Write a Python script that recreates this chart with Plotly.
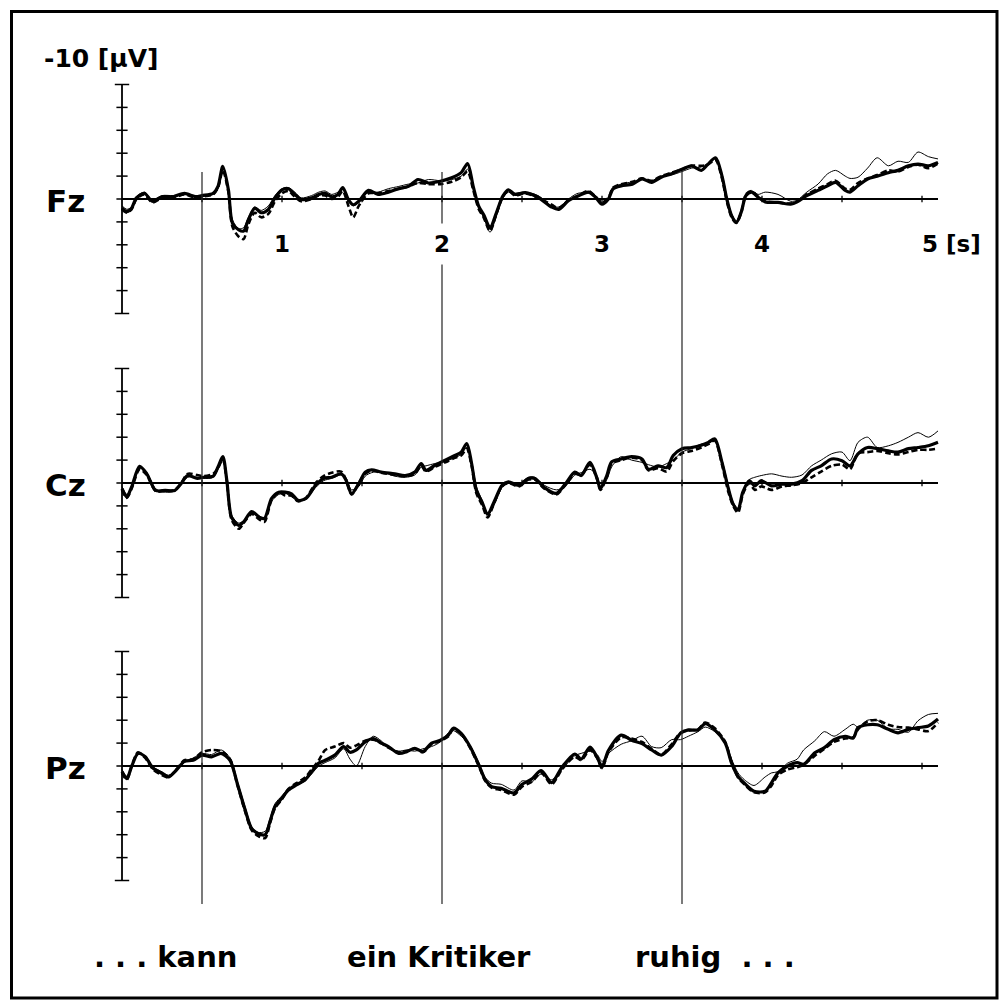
import plotly.graph_objects as go

# ---------------- data (µV, negative plotted upward) ----------------
T_FZ = [0.00, 0.03, 0.06, 0.09, 0.14, 0.19, 0.25, 0.32, 0.39, 0.46,
        0.50, 0.57, 0.60, 0.63, 0.665, 0.69, 0.73, 0.76, 0.79, 0.83,
        0.87, 0.915, 0.956, 1.00, 1.04, 1.08, 1.12, 1.185, 1.23, 1.27,
        1.31, 1.35, 1.38, 1.415, 1.445, 1.48, 1.54, 1.60, 1.665, 1.73,
        1.79, 1.85, 1.915, 1.99, 2.06, 2.12, 2.16, 2.195, 2.23, 2.26,
        2.30, 2.34, 2.38, 2.415, 2.456, 2.52, 2.60, 2.685, 2.73, 2.79,
        2.85, 2.915, 2.96, 3.00, 3.04, 3.07, 3.12, 3.19, 3.25, 3.31,
        3.37, 3.435, 3.50, 3.56, 3.62, 3.66, 3.71, 3.75, 3.78, 3.81,
        3.84, 3.87, 3.90, 3.935, 3.976, 4.02, 4.10, 4.18, 4.22, 4.28,
        4.35, 4.41, 4.46, 4.52, 4.55, 4.60, 4.66, 4.72, 4.79, 4.85,
        4.915, 4.975, 5.04, 5.10]
FZ_THICK = [0.8, 1.1, 0.8, -0.1, -0.5, 0.2, -0.2, -0.2, -0.5, -0.2,
            -0.3, -0.5, -1.1, -2.85, -0.8, 2.1, 2.7, 2.8, 1.8, 0.8,
            1.2, 0.9, -0.1, -0.8, -0.9, -0.4, 0.05, -0.1, -0.4, -0.5,
            -0.2, -0.4, -1.0, 0.05, 0.5, 0.2, -0.75, -0.4, -0.6, -0.9,
            -1.1, -1.7, -1.4, -1.55, -1.85, -2.3, -3.1, -1.1, 0.65, 1.35,
            2.5, 1.2, -0.25, -0.8, -0.4, -0.55, -0.15, 0.7, 0.9, 0.15,
            -0.25, -0.6, -0.15, 0.45, 0.0, -0.9, -1.15, -1.3, -1.75, -1.45,
            -1.9, -2.2, -2.6, -2.9, -2.5, -3.0, -3.6, -2.0, 0.0, 1.45,
            2.05, 1.15, -0.3, -0.6, -0.15, 0.25, 0.3, 0.45, 0.25, -0.3,
            -0.75, -1.15, -1.45, -0.75, -0.6, -1.15, -1.75, -2.0, -2.3, -2.5,
            -2.9, -3.05, -2.9, -3.2]
FZ_THIN = [0.6, 0.9, 0.7, -0.2, -0.6, 0.1, -0.3, -0.3, -0.4, -0.3,
           -0.2, -0.4, -0.9, -2.4, -0.9, 1.8, 2.6, 2.5, 1.6, 0.7,
           1.0, 0.6, -0.3, -0.9, -1.0, -0.6, -0.1, -0.3, -0.6, -0.7,
           -0.4, -0.6, -0.9, 0.2, 0.6, 0.3, -0.6, -0.6, -0.9, -1.1,
           -1.3, -1.4, -1.7, -1.6, -1.7, -2.0, -2.6, -1.0, 0.8, 1.6,
           2.9, 1.5, -0.1, -0.6, -0.5, -0.6, -0.3, 0.6, 0.7, 0.0,
           -0.5, -0.5, -0.3, 0.3, -0.1, -1.0, -1.3, -1.5, -1.7, -1.6,
           -2.0, -2.1, -2.4, -2.7, -2.8, -3.1, -3.5, -2.2, -0.2, 1.3,
           1.9, 1.0, -0.4, -0.7, -0.4, -0.6, -0.4, 0.2, 0.1, -0.6,
           -1.3, -2.2, -2.5, -2.0, -1.8, -1.9, -2.7, -3.6, -2.9, -3.3,
           -3.2, -4.1, -3.7, -3.5]
FZ_DASH = [0.9, 1.2, 0.9, 0.0, -0.4, 0.3, -0.1, -0.1, -0.4, -0.1,
           -0.2, -0.4, -1.0, -2.5, -0.6, 2.4, 3.3, 3.5, 2.2, 1.2,
           1.6, 1.3, 0.2, -0.5, -0.7, -0.2, 0.2, 0.0, -0.3, -0.3,
           0.0, -0.2, -0.7, 0.6, 1.6, 0.6, -0.5, -0.5, -0.7, -0.9,
           -1.1, -1.4, -1.3, -1.3, -1.5, -1.9, -2.4, -0.8, 0.9, 1.6,
           2.8, 1.3, -0.2, -0.7, -0.3, -0.5, -0.1, 0.5, 0.8, 0.1,
           -0.3, -0.7, -0.2, 0.3, -0.1, -1.0, -1.3, -1.5, -1.8, -1.6,
           -2.0, -2.3, -2.6, -2.9, -2.9, -3.0, -3.4, -1.8, 0.2, 1.6,
           2.1, 1.2, -0.4, -0.7, -0.2, 0.2, 0.3, 0.4, 0.2, -0.4,
           -0.9, -1.3, -1.6, -0.9, -0.8, -1.4, -1.8, -2.1, -2.5, -2.4,
           -2.8, -3.0, -2.7, -3.1]

T_CZ = [0.00, 0.03, 0.06, 0.11, 0.155, 0.21, 0.27, 0.33, 0.37, 0.41,
        0.47, 0.51, 0.57, 0.60, 0.63, 0.655, 0.685, 0.73, 0.76, 0.81,
        0.86, 0.89, 0.935, 0.98, 1.02, 1.06, 1.10, 1.15, 1.21, 1.26,
        1.31, 1.37, 1.40, 1.435, 1.48, 1.52, 1.56, 1.62, 1.705, 1.77,
        1.83, 1.87, 1.90, 1.955, 2.02, 2.08, 2.12, 2.155, 2.185, 2.215,
        2.25, 2.285, 2.33, 2.375, 2.415, 2.48, 2.54, 2.58, 2.64, 2.715,
        2.77, 2.83, 2.87, 2.925, 2.97, 2.99, 3.03, 3.06, 3.12, 3.185,
        3.25, 3.29, 3.35, 3.405, 3.445, 3.50, 3.56, 3.62, 3.665, 3.705,
        3.75, 3.79, 3.82, 3.85, 3.88, 3.92, 3.955, 3.995, 4.06, 4.125,
        4.185, 4.25, 4.31, 4.37, 4.435, 4.50, 4.55, 4.60, 4.66, 4.72,
        4.79, 4.85, 4.915, 4.975, 5.04, 5.10]
CZ_THICK = [0.5, 1.2, 0.35, -1.45, -0.8, 0.65, 0.65, 0.65, 0.05, -0.65,
            -0.4, -0.5, -0.6, -1.4, -2.3, -0.25, 3.0, 3.7, 3.4, 2.5,
            3.0, 3.1, 1.35, 0.8, 0.8, 0.95, 1.5, 1.35, 0.2, -0.4,
            -0.5, -0.8, -0.25, 0.95, 0.05, -0.95, -1.15, -0.95, -0.8, -0.65,
            -0.95, -1.7, -1.1, -1.55, -2.0, -2.4, -2.7, -3.45, -1.7, 0.65,
            1.65, 2.7, 1.5, 0.2, -0.1, 0.2, -0.4, -0.4, 0.4, 0.9,
            0.1, -0.95, -0.65, -1.8, -0.35, 0.5, -0.65, -1.85, -2.1, -2.3,
            -2.1, -1.2, -1.5, -1.35, -2.4, -3.0, -3.1, -3.3, -3.55, -3.85,
            -1.8, 0.5, 1.85, 2.35, 0.8, -0.2, 0.25, -0.2, 0.25, 0.1,
            0.1, -0.2, -1.1, -1.5, -2.1, -1.95, -1.5, -2.55, -3.1, -3.0,
            -2.8, -2.7, -3.0, -3.1, -3.25, -3.55]
CZ_THIN = [0.3, 1.0, 0.4, -1.3, -0.9, 0.5, 0.8, 0.7, 0.1, -0.5,
           -0.5, -0.4, -0.5, -1.2, -2.0, -0.4, 2.8, 3.5, 3.3, 2.6,
           2.9, 3.2, 1.6, 1.0, 0.9, 1.2, 1.6, 1.4, 0.4, -0.2,
           -0.4, -0.7, -0.4, 0.6, 0.3, -0.6, -0.9, -1.0, -0.6, -0.5,
           -0.7, -1.4, -1.5, -1.7, -1.9, -2.2, -2.5, -3.1, -1.9, 0.3,
           1.5, 2.9, 1.8, 0.4, 0.0, 0.1, -0.5, -0.5, 0.2, 0.6,
           0.3, -0.7, -0.9, -1.2, -0.6, 0.3, -0.3, -1.4, -2.3, -2.0,
           -1.8, -1.6, -1.4, -1.7, -2.0, -2.7, -3.0, -3.4, -3.5, -3.7,
           -2.0, 0.3, 1.7, 2.2, 0.7, -0.3, -0.5, -0.65, -0.8, -0.6,
           -0.5, -0.7, -1.5, -2.0, -2.55, -2.7, -1.95, -3.55, -4.0, -3.1,
           -3.25, -3.55, -4.0, -4.4, -4.0, -4.55]
CZ_DASH = [0.6, 1.3, 0.5, -1.2, -0.7, 0.7, 0.7, 0.6, 0.0, -0.8,
           -0.7, -0.6, -0.8, -1.3, -2.1, -0.2, 3.2, 4.0, 3.5, 2.7,
           3.2, 3.4, 1.5, 0.8, 1.1, 1.1, 1.6, 1.3, 0.0, -0.6,
           -0.9, -1.0, -0.3, 1.0, 0.0, -0.8, -1.1, -0.9, -0.7, -0.6,
           -0.8, -1.5, -1.0, -1.4, -1.8, -2.2, -2.4, -3.0, -1.5, 0.9,
           1.9, 3.0, 1.6, 0.3, 0.0, 0.3, -0.3, -0.3, 0.5, 1.0,
           0.2, -0.8, -0.7, -1.6, -0.3, 0.6, -0.5, -1.7, -2.0, -2.2,
           -2.0, -1.1, -1.3, -1.0, -1.9, -2.6, -2.8, -3.1, -3.4, -3.7,
           -1.6, 0.8, 2.0, 2.6, 1.0, 0.0, 0.6, 0.3, 0.6, 0.3,
           0.2, 0.0, -0.5, -1.0, -1.5, -1.6, -1.2, -2.6, -2.7, -2.8,
           -2.6, -2.5, -2.7, -2.9, -2.9, -3.0]

T_PZ = [0.00, 0.03, 0.06, 0.10, 0.145, 0.195, 0.25, 0.29, 0.34, 0.39,
        0.445, 0.50, 0.56, 0.62, 0.675, 0.72, 0.77, 0.81, 0.85, 0.895,
        0.925, 0.956, 1.00, 1.04, 1.09, 1.145, 1.185, 1.23, 1.27, 1.33,
        1.385, 1.425, 1.465, 1.52, 1.57, 1.62, 1.665, 1.73, 1.78, 1.83,
        1.88, 1.935, 1.99, 2.04, 2.07, 2.12, 2.175, 2.23, 2.27, 2.31,
        2.37, 2.45, 2.50, 2.56, 2.62, 2.685, 2.75, 2.83, 2.87, 2.925,
        2.97, 3.00, 3.04, 3.12, 3.185, 3.25, 3.31, 3.37, 3.435, 3.49,
        3.54, 3.60, 3.645, 3.705, 3.77, 3.81, 3.85, 3.89, 3.95, 4.02,
        4.06, 4.10, 4.16, 4.22, 4.26, 4.33, 4.39, 4.45, 4.52, 4.57,
        4.60, 4.66, 4.72, 4.79, 4.85, 4.915, 4.975, 5.04, 5.10]
PZ_THICK = [0.5, 1.1, 0.05, -1.1, -0.8, 0.2, 0.65, 0.95, 0.35, -0.4,
            -0.5, -0.95, -0.8, -1.1, -0.5, 1.5, 3.85, 5.45, 5.9, 6.0,
            4.85, 3.55, 2.8, 2.1, 1.65, 1.2, 0.5, -0.25, -0.5, -0.95,
            -1.7, -1.2, -1.4, -2.1, -2.4, -2.0, -1.7, -1.1, -1.25, -1.55,
            -1.25, -2.0, -2.25, -2.7, -3.3, -2.85, -1.7, -0.1, 1.2, 1.8,
            1.95, 2.35, 1.6, 1.15, 0.4, 1.45, 0.1, -1.05, -0.6, -1.65,
            -0.75, 0.1, -1.35, -2.7, -2.25, -1.95, -1.4, -0.95, -1.7, -2.85,
            -3.15, -3.15, -3.7, -3.15, -2.0, -0.25, 0.9, 1.5, 2.2, 2.2,
            1.45, 0.6, 0.0, -0.3, -0.15, -1.15, -1.6, -2.3, -2.6, -2.45,
            -3.35, -3.6, -3.6, -3.2, -2.9, -3.2, -3.35, -3.5, -4.1]
PZ_THIN = [0.3, 0.9, 0.1, -1.0, -0.9, 0.1, 0.5, 0.8, 0.4, -0.3,
           -0.7, -1.1, -1.0, -1.4, -0.7, 1.3, 3.6, 5.3, 5.8, 5.7,
           4.6, 3.3, 2.6, 2.0, 1.7, 1.3, 0.7, 0.0, -0.3, -0.7,
           -1.5, -0.6, 0.0, -1.7, -2.6, -2.2, -1.6, -1.3, -1.4, -1.3,
           -1.5, -1.7, -2.1, -2.9, -3.1, -2.6, -1.8, -0.3, 1.0, 1.5,
           1.6, 2.1, 1.3, 1.4, 0.7, 1.2, 0.3, -0.9, -1.1, -1.3,
           -1.0, -0.4, -1.1, -1.9, -2.2, -2.6, -1.7, -1.6, -2.3, -2.3,
           -2.6, -3.0, -3.4, -3.0, -2.1, -0.6, 0.6, 1.2, 1.7, 0.95,
           0.6, 0.5, -0.25, -0.6, -1.4, -2.2, -3.0, -2.6, -3.2, -3.65,
           -3.4, -4.0, -4.0, -3.25, -3.2, -2.95, -3.95, -4.5, -4.6]
PZ_DASH = [0.6, 1.2, 0.0, -1.2, -0.7, 0.3, 0.8, 1.0, 0.3, -0.5,
           -0.6, -1.2, -1.4, -1.3, -0.6, 1.6, 4.0, 5.6, 6.1, 6.3,
           5.0, 3.7, 2.9, 2.0, 1.5, 1.0, 0.3, -0.5, -1.4, -1.7,
           -2.0, -1.6, -1.8, -2.2, -2.3, -2.0, -1.6, -1.2, -1.3, -1.5,
           -1.2, -1.9, -2.2, -2.6, -3.2, -2.8, -1.6, 0.0, 1.3, 1.9,
           2.1, 2.5, 1.8, 1.4, 0.6, 1.6, 0.3, -0.8, -0.5, -1.4,
           -0.7, 0.2, -1.2, -2.5, -2.4, -2.1, -1.5, -1.0, -1.9, -2.9,
           -3.1, -3.2, -3.8, -3.3, -2.1, -0.3, 1.0, 1.6, 2.3, 2.3,
           1.7, 0.8, 0.3, 0.1, -0.1, -0.9, -1.5, -2.1, -2.4, -2.5,
           -3.2, -3.9, -4.0, -3.6, -3.4, -3.35, -3.2, -3.05, -3.8]

CHANNELS = ["Fz", "Cz", "Pz"]
Y_TICKS = [-10, -8, -6, -4, -2, 0, 2, 4, 6, 8, 10]
X_TICKS = [0.5, 1.0, 1.5, 2.0, 2.5, 3.0, 3.5, 4.0, 4.5, 5.0]
X_TICK_LABELS = {1: "1", 2: "2", 3: "3", 4: "4", 5: "5 [s]"}
WORD_ONSETS = [0.5, 2.0, 3.5]
WORDS = [". . . kann", "ein Kritiker", "ruhig  . . ."]
T_END = 5.1

SERIES = {
    "Fz": (T_FZ, FZ_THIN, FZ_THICK, FZ_DASH),
    "Cz": (T_CZ, CZ_THIN, CZ_THICK, CZ_DASH),
    "Pz": (T_PZ, PZ_THIN, PZ_THICK, PZ_DASH),
}
for k, (t, a, b, c) in SERIES.items():
    assert len(t) == len(a) == len(b) == len(c), k

# ---------------- layout geometry ----------------
W, H = 999, 1005
PX_PER_S = 160.0
X0_PX = 122.0
PX_PER_UV = 11.45
ZERO_PX = {"Fz": 199, "Cz": 483, "Pz": 766}
HALF = 140


def py(p):
    return 1 - p / H


def px(p):
    return p / W


FONT = "DejaVu Sans"
fig = go.Figure()
layout_axes = {}
shapes = []
annotations = []

for i, ch in enumerate(CHANNELS):
    yname = "y" if i == 0 else f"y{i+1}"
    ykey = "yaxis" if i == 0 else f"yaxis{i+1}"
    z = ZERO_PX[ch]
    top, bot = z - HALF, z + HALF
    layout_axes[ykey] = dict(
        domain=[py(bot), py(top)],
        range=[(bot - z) / PX_PER_UV, (top - z) / PX_PER_UV],
        visible=False, fixedrange=True,
    )
    t, thin, thick, dash = SERIES[ch]
    fig.add_trace(go.Scatter(x=t, y=thin, mode="lines", yaxis=yname, xaxis="x",
                             line=dict(color="black", width=1, shape="spline", smoothing=0.8),
                             showlegend=False, hoverinfo="skip"))
    fig.add_trace(go.Scatter(x=t, y=dash, mode="lines", yaxis=yname, xaxis="x",
                             line=dict(color="black", width=2.6, dash="6px,3px",
                                       shape="spline", smoothing=0.8),
                             showlegend=False, hoverinfo="skip"))
    fig.add_trace(go.Scatter(x=t, y=thick, mode="lines", yaxis=yname, xaxis="x",
                             line=dict(color="black", width=3.2, shape="spline", smoothing=0.8),
                             showlegend=False, hoverinfo="skip"))

    # y axis line + ticks
    shapes.append(dict(type="line", xref="x", yref=yname, x0=0, x1=0,
                       y0=Y_TICKS[0], y1=Y_TICKS[-1], line=dict(color="black", width=1.8)))
    for v in Y_TICKS:
        half = 0.045 if abs(v) == 10 else 0.035
        shapes.append(dict(type="line", xref="x", yref=yname, x0=-half, x1=half,
                           y0=v, y1=v, line=dict(color="black", width=1.5)))
    # zero line + time ticks
    shapes.append(dict(type="line", xref="x", yref=yname, x0=0, x1=T_END,
                       y0=0, y1=0, line=dict(color="black", width=1.8)))
    for s in X_TICKS:
        shapes.append(dict(type="line", xref="x", yref=yname, x0=s, x1=s,
                           y0=-0.28, y1=0.28, line=dict(color="black", width=1.3)))
    # channel label
    annotations.append(dict(xref="paper", yref=yname, x=px(65), y=0.15,
                            text=f"<b>{ch}</b>", showarrow=False,
                            font=dict(family=FONT, size=31, color="black"),
                            xanchor="center", yanchor="middle"))

# word onset vertical lines
for s in WORD_ONSETS:
    shapes.append(dict(type="line", xref="x", yref="paper", x0=s, x1=s,
                       y0=py(904), y1=py(172), line=dict(color="#222", width=1.2)))

# time tick labels in the Fz panel
for s, lab in X_TICK_LABELS.items():
    annotations.append(dict(xref="x", yref="y", x=s, y=3.9,
                            text=f"<b>{lab}</b>", showarrow=False,
                            font=dict(family=FONT, size=23, color="black"),
                            xanchor="left" if lab.startswith("5") else "center",
                            xshift=-8 if lab.startswith("5") else 0,
                            yanchor="middle", bgcolor="white", borderpad=7))

# unit label
annotations.append(dict(xref="paper", yref="paper", x=px(42), y=py(58),
                        text="<b>-10 [µV]</b>", showarrow=False,
                        font=dict(family=FONT, size=25, color="black"),
                        xanchor="left", yanchor="middle"))

# words
WORD_LEFT_PX = [92, 345, 633]
for w, lp in zip(WORDS, WORD_LEFT_PX):
    annotations.append(dict(xref="paper", yref="paper", x=px(lp), y=py(957),
                            text=f"<b>{w}</b>", showarrow=False,
                            font=dict(family=FONT, size=29, color="black"),
                            xanchor="left", yanchor="middle"))

# frame
shapes.append(dict(type="rect", xref="paper", yref="paper",
                   x0=px(11.5), x1=px(997), y0=py(998), y1=py(11.5),
                   line=dict(color="black", width=3)))

fig.update_layout(
    width=W, height=H,
    margin=dict(l=0, r=0, t=0, b=0),
    paper_bgcolor="white", plot_bgcolor="white",
    xaxis=dict(domain=[0, 1], range=[-X0_PX / PX_PER_S, (W - X0_PX) / PX_PER_S],
               visible=False, fixedrange=True),
    shapes=shapes, annotations=annotations, showlegend=False,
    **layout_axes,
)

fig.write_html("out.html")
